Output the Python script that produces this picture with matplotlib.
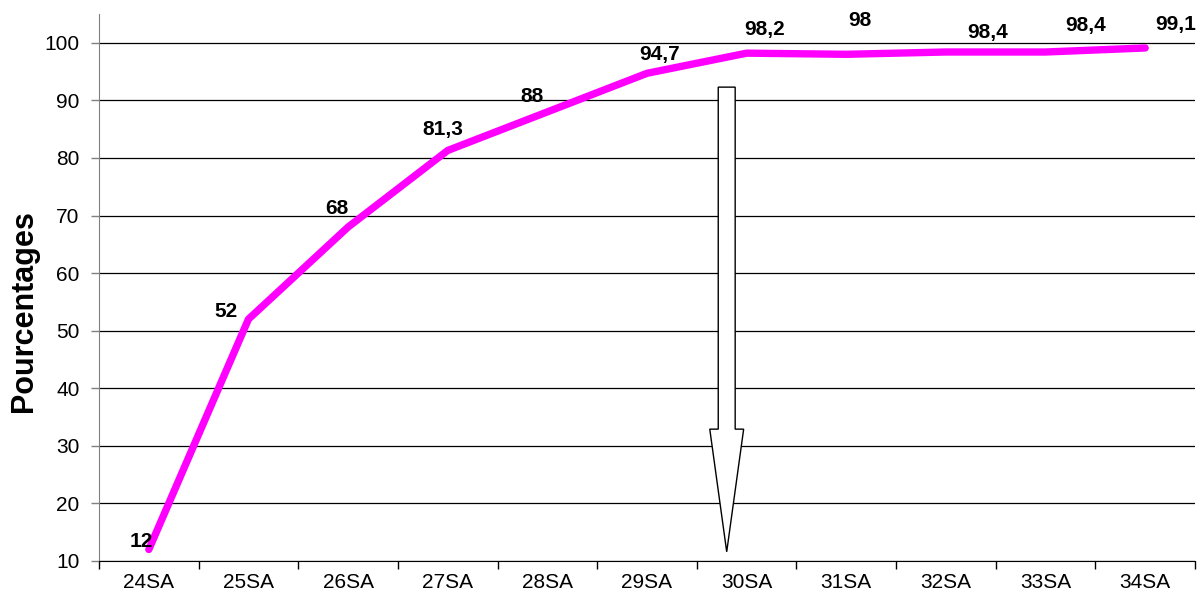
import matplotlib
matplotlib.use("Agg")
import matplotlib.pyplot as plt
from matplotlib.patches import FancyArrow
import numpy as np

categories = ["24SA", "25SA", "26SA", "27SA", "28SA", "29SA", "30SA", "31SA", "32SA", "33SA", "34SA"]
values = [12, 52, 68, 81.3, 88, 94.7, 98.2, 98, 98.4, 98.4, 99.1]
value_labels = ["12", "52", "68", "81,3", "88", "94,7", "98,2", "98", "98,4", "98,4", "99,1"]
yticks = [10, 20, 30, 40, 50, 60, 70, 80, 90, 100]

# label offsets in pixels (dx, dy)
label_offsets = [(-8, 8), (-22, 8), (-11, 19), (-5, 21), (-15, 15), (13, 19),
                 (18, 24), (14, 34), (42, 20), (40, 27), (31, 23)]

# arrow (x position in category units, start/end in value units)
arrow_x = 5.8
arrow_top = 92.3
arrow_tip = 11.6
arrow_head_len = 21.3

plt.rcParams['font.family'] = ['Liberation Sans', 'DejaVu Sans']

fig = plt.figure(figsize=(11.97, 5.97), dpi=100)
ax = fig.add_axes([99 / 1197, 1 - 561 / 597, (1195 - 99) / 1197, (561 - 14) / 597])

x = np.arange(len(categories))
ax.plot(x, values, color="#FF00FF", lw=5.3, solid_capstyle="round", solid_joinstyle="round", zorder=3)

for xi, v, lab, (dx, dy) in zip(x, values, value_labels, label_offsets):
    ax.annotate(lab, (xi, v), xytext=(dx, dy), textcoords="offset pixels",
                ha="center", va="center", fontsize=15, fontweight="bold",
                annotation_clip=False, zorder=4)

arr = FancyArrow(arrow_x, arrow_top, 0, arrow_tip - arrow_top, width=0.17,
                 head_width=0.34, head_length=arrow_head_len,
                 length_includes_head=True, fc="white", ec="black", lw=1, zorder=5)
ax.add_patch(arr)

ax.set_xlim(-0.5, len(categories) - 0.5)
ax.set_ylim(10, 105)
ax.set_yticks(yticks)
ax.set_xticks(x)
ax.set_xticklabels(categories)
ax.set_xticks(np.arange(-0.5, len(categories) - 0.5 + 0.01, 1), minor=True)
ax.tick_params(axis="x", which="major", length=0, pad=9, labelsize=15)
ax.tick_params(axis="x", which="minor", length=6, color="black", width=1)
ax.tick_params(axis="y", length=6, color="#808080", width=1, labelsize=15, pad=8)

ax.yaxis.grid(True, color="black", lw=0.9)
ax.set_axisbelow(True)
for s in ["top", "right"]:
    ax.spines[s].set_visible(False)
ax.spines["left"].set_color("#808080")
ax.spines["bottom"].set_color("black")

ax.set_ylabel("Pourcentages", fontsize=22, fontweight="bold", va="center")
ax.yaxis.set_label_coords(-0.0684, 0.457)

fig.savefig("out.png", dpi=100)
